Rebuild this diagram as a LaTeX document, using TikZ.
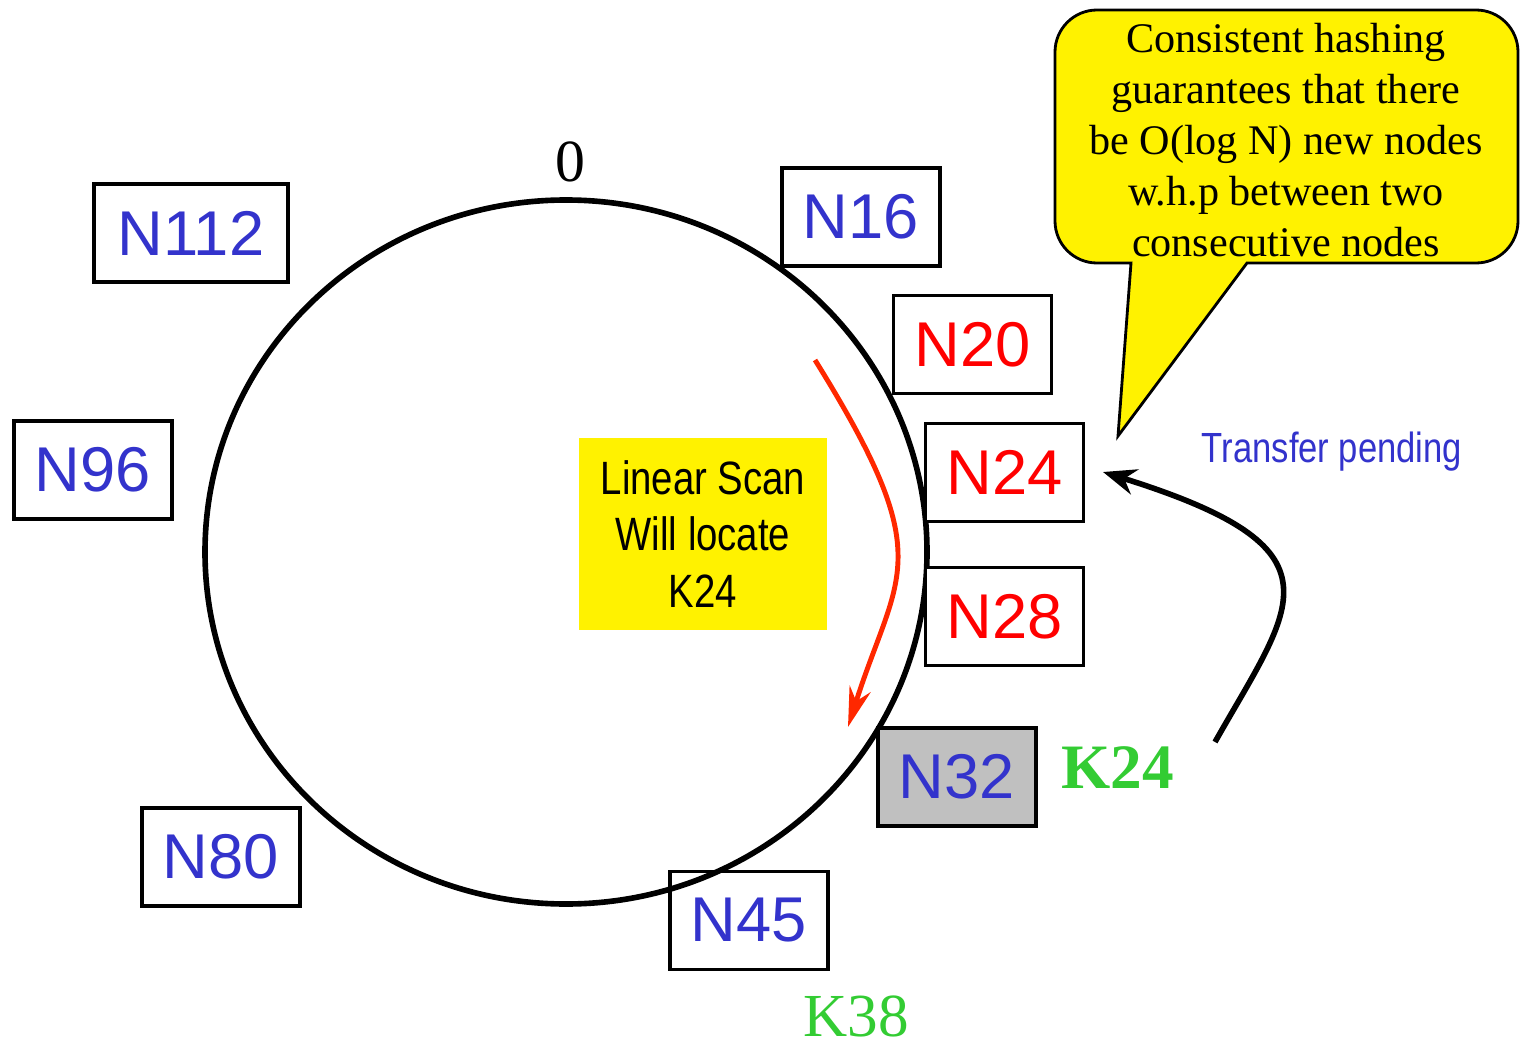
\documentclass[tikz,border=0pt]{standalone}
\usepackage{fontspec}
\setmainfont{Liberation Serif}
\newfontfamily\hv{Liberation Sans}
\newfontfamily\hvn[FakeStretch=0.82]{Liberation Sans}
\usetikzlibrary{arrows.meta}
\definecolor{nblue}{RGB}{51,51,204}
\definecolor{kgreen}{RGB}{51,204,51}
\definecolor{scanred}{RGB}{255,40,0}
\definecolor{ngray}{RGB}{192,192,192}
\tikzset{
  nbox/.style={draw=black, line width=1pt, fill=white, minimum width=1.58cm, minimum height=0.98cm, inner sep=0pt,
    font=\hv\fontsize{18}{20}\selectfont},
  bluen/.style={nbox, text=nblue},
  redn/.style={nbox, text=red},
}
\begin{document}
\begin{tikzpicture}
\useasboundingbox (0,0) rectangle (15.24,10.44);
% ring
\draw[line width=1.6pt] (5.66,4.92) ellipse [x radius=3.61, y radius=3.52];
\node[font=\fontsize{17}{20}\selectfont] (zero) at (5.70,8.82) {0};
% nodes
\node[bluen, minimum width=1.94cm] (n112) at (1.91,8.11) {N112};
\node[bluen] (n16) at (8.61,8.27) {N16};
\node[redn] (n20) at (9.725,6.995) {N20};
\node[redn] (n24) at (10.045,5.715) {N24};
\node[redn] (n28) at (10.045,4.275) {N28};
\node[bluen, fill=ngray] (n32) at (9.57,2.67) {N32};
\node[bluen, fill=none] (n45) at (7.49,1.235) {N45};
\node[bluen] (n80) at (2.21,1.87) {N80};
\node[bluen] (n96) at (0.93,5.74) {N96};
% keys
\node[text=kgreen, font=\bfseries\fontsize{18}{20}\selectfont] (k24) at (11.18,2.76) {K24};
\node[text=kgreen, font=\fontsize{17.4}{20}\selectfont] (k38) at (8.56,0.28) {K38};
% linear scan box
\node[fill=yellow, minimum width=2.48cm, minimum height=1.92cm, align=center, inner sep=0pt,
  font=\hvn\fontsize{13.3}{16.2}\selectfont] (scan) at (7.03,5.10) {Linear Scan\\Will locate\\K24};
% scan arrow
\coordinate (scanstart) at (8.15,6.84);
\coordinate (scanend) at (8.48,3.17);
\draw[scanred, line width=1.4pt, -{Stealth[length=0.4cm, width=0.22cm]}]
  (scanstart) .. controls (9.40,4.83) and (8.98,4.74) .. (scanend);
% transfer
\node[text=nblue, font=\hvn\fontsize{12}{14}\selectfont] (transfer) at (13.32,5.92) {Transfer pending};
\coordinate (trfrom) at (12.15,3.02);
\coordinate (trto) at (11.03,5.72);
\draw[black, line width=1.6pt, -{Stealth[length=0.33cm, width=0.26cm]}]
  (trfrom) .. controls (12.93,4.40) and (13.50,4.95) .. (trto);
% callout
\draw[fill=yellow, line width=0.8pt]
  (12.47,7.81) -- (14.76,7.81) arc[start angle=-90, end angle=0, radius=0.42]
  -- (15.18,9.92) arc[start angle=0, end angle=90, radius=0.42]
  -- (10.97,10.34) arc[start angle=90, end angle=180, radius=0.42]
  -- (10.55,8.23) arc[start angle=180, end angle=270, radius=0.42]
  -- (11.31,7.81) -- (11.18,6.08) -- cycle;
\node[align=center, font=\fontsize{12}{14.5}\selectfont, inner sep=0pt] (callout) at (12.86,9.04)
  {Consistent hashing\\guarantees that there\\be O(log N) new nodes\\w.h.p between two\\consecutive nodes};
\end{tikzpicture}
\end{document}
